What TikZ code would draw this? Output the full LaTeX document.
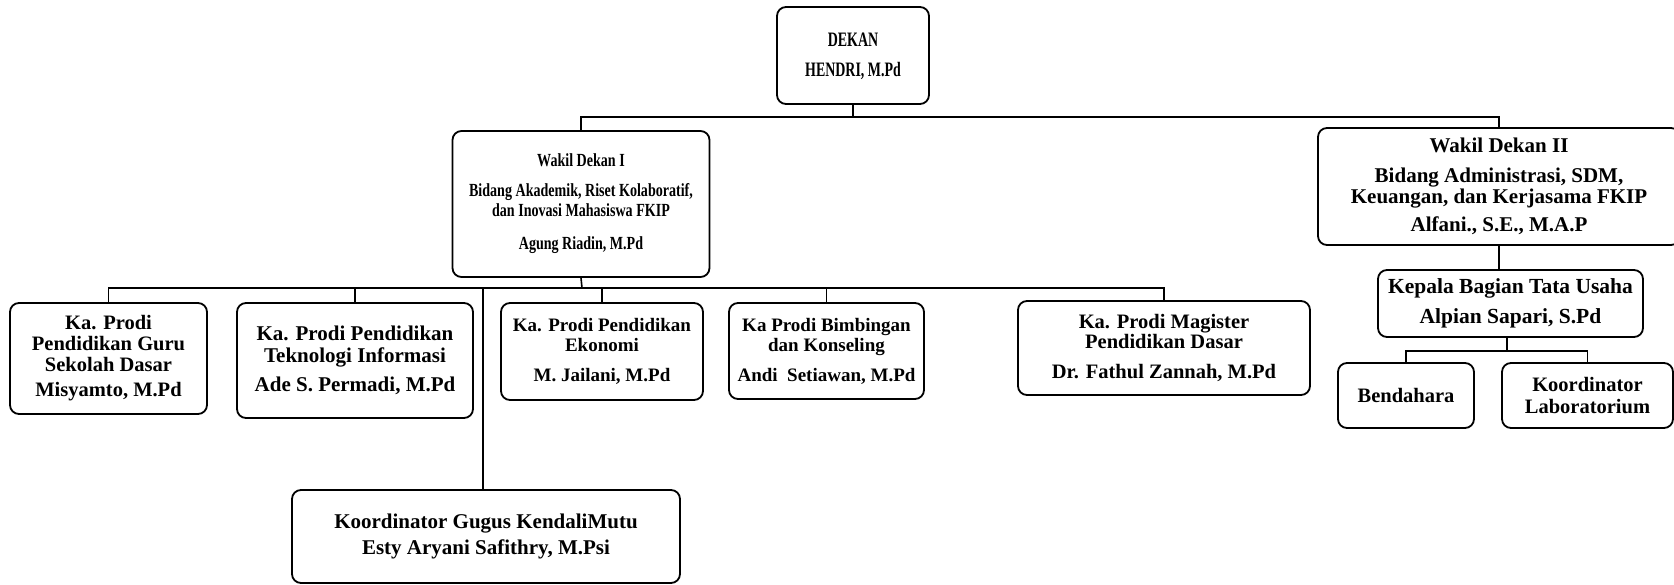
\documentclass[tikz,border=0pt]{standalone}
\usepackage{graphicx}
\usepackage{fontspec}
\setmainfont{Liberation Serif}
\newcommand{\sqz}[2]{\scalebox{#1}[1]{\begin{tabular}{@{}c@{}}#2\end{tabular}}}
\begin{document}
\begin{tikzpicture}[x=1pt,y=-1pt,
  box/.style={draw, line width=1.8pt, rounded corners=9pt, align=center, inner sep=0pt},
  conn/.style={line width=1.6pt}]
\useasboundingbox (0,0) rectangle (1674,585);
% top
\node[box, minimum width=152pt, minimum height=97pt,
  font={\fontsize{20.5}{30}\selectfont\bfseries}] (dekan) at (853,55.5) {\sqz{0.68}{DEKAN\\HENDRI, M.Pd}};
\node[box, minimum width=257pt, minimum height=146pt,
  font={\fontsize{18.5}{20}\selectfont\bfseries}] (wd1) at (581,204)
  {\sqz{0.76}{Wakil Dekan I\\[10pt]Bidang Akademik, Riset Kolaboratif,\\dan Inovasi Mahasiswa FKIP\\[13pt]Agung Riadin, M.Pd}};
\node[box, minimum width=362pt, minimum height=117pt,
  font={\fontsize{21}{19}\selectfont\bfseries}] (wd2) at (1499,186.5)
  {Wakil Dekan II\\[11pt]Bidang Administrasi, SDM,\\Keuangan, dan Kerjasama FKIP\\[8pt]Alfani., S.E., M.A.P};
% children of WD1
\node[box, minimum width=197pt, minimum height=111pt,
  font={\fontsize{20.5}{21}\selectfont\bfseries}] (b1) at (108.5,358.5)
  {Ka. Prodi\\Pendidikan Guru\\Sekolah Dasar\\[4pt]Misyamto, M.Pd};
\node[box, minimum width=236pt, minimum height=115pt,
  font={\fontsize{21}{22}\selectfont\bfseries}] (b2) at (355,360.5)
  {Ka. Prodi Pendidikan\\Teknologi Informasi\\[7pt]Ade S. Permadi, M.Pd};
\node[box, minimum width=202pt, minimum height=97pt,
  font={\fontsize{19}{20}\selectfont\bfseries}] (b3) at (602,351.5)
  {Ka. Prodi Pendidikan\\Ekonomi\\[10pt]M. Jailani, M.Pd};
\node[box, minimum width=195pt, minimum height=96pt,
  font={\fontsize{19}{20}\selectfont\bfseries}] (b4) at (826.5,351)
  {Ka Prodi Bimbingan\\dan Konseling\\[10pt]Andi\ \ Setiawan, M.Pd};
\node[box, minimum width=292pt, minimum height=94pt,
  font={\fontsize{20.5}{20}\selectfont\bfseries}] (b5) at (1164,348)
  {Ka. Prodi Magister\\Pendidikan Dasar\\[10pt]Dr. Fathul Zannah, M.Pd};
\node[box, minimum width=388pt, minimum height=93pt,
  font={\fontsize{21}{26}\selectfont\bfseries}] (kgm) at (486,536.5)
  {Koordinator Gugus KendaliMutu\\Esty Aryani Safithry, M.Psi};
% right branch
\node[box, minimum width=265pt, minimum height=67pt,
  font={\fontsize{21.5}{30}\selectfont\bfseries}] (kbtu) at (1510.5,303.5)
  {Kepala Bagian Tata Usaha\\Alpian Sapari, S.Pd};
\node[box, minimum width=136pt, minimum height=65pt,
  font={\fontsize{20.5}{22}\selectfont\bfseries}] (bend) at (1406,395.5) {Bendahara};
\node[box, minimum width=171pt, minimum height=65pt,
  font={\fontsize{20.5}{22}\selectfont\bfseries}] (klab) at (1587.5,395.5) {Koordinator\\Laboratorium};
% connectors
\coordinate (busA) at (853,117);
\coordinate (busB) at (582,288);
\coordinate (busC) at (1507,351);
\draw[conn] (dekan.south) -- (busA);
\draw[conn] (wd1.north) |- (busA) -| (wd2.north);
\draw[conn] (wd1.south) -- (busB);
\draw[conn] (b1.north) |- (busB) -| (b5.north);
\draw[conn] (b2.north) -- (b2.north |- busB);
\draw[conn] (b3.north) -- (b3.north |- busB);
\draw[conn] (b4.north) -- (b4.north |- busB);
\draw[conn] (kgm.north -| 483,0) -- (483,288);
\draw[conn] (wd2.south) -- (wd2.south |- kbtu.north);
\draw[conn] (kbtu.south -| busC) -- (busC);
\draw[conn] (bend.north) |- (busC) -| (klab.north);
\end{tikzpicture}
\end{document}
